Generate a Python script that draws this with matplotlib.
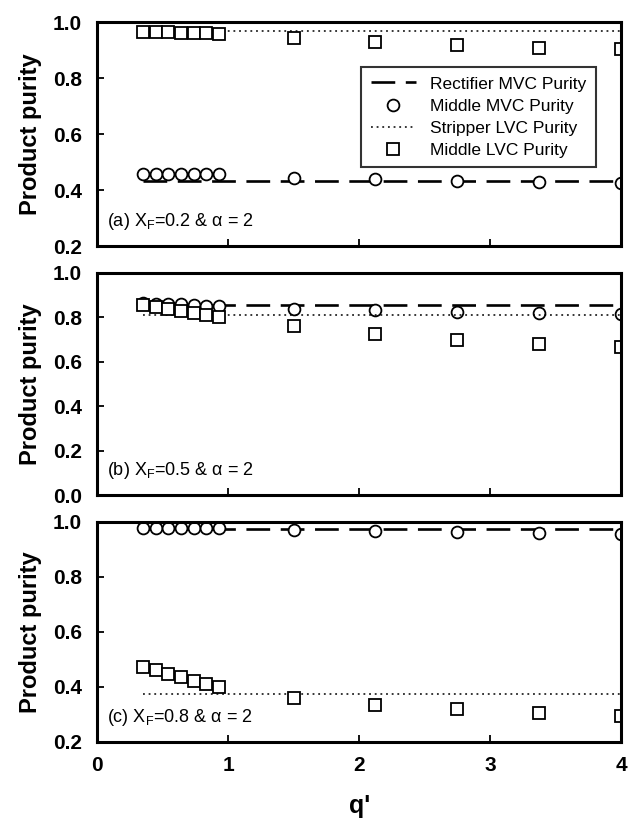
import numpy as np
import matplotlib
matplotlib.use("Agg")
import matplotlib.pyplot as plt

plt.rcParams['font.family'] = ['Liberation Sans', 'DejaVu Sans']
plt.rcParams['mathtext.fontset'] = 'custom'
plt.rcParams['mathtext.rm'] = 'Liberation Sans'
plt.rcParams['mathtext.it'] = 'Liberation Sans'

# q' values of the simulated points
q = [0.35, 0.45, 0.54, 0.64, 0.74, 0.83, 0.93, 1.5, 2.12, 2.75, 3.37, 4.0]
# flat column purities span the whole q' range
q_line = [0.35, 4.0]

# (a) XF = 0.2
a_rect = [0.435, 0.435]
a_strip = [0.97, 0.97]
a_mid_mvc = [0.46, 0.46, 0.46, 0.46, 0.46, 0.46, 0.46, 0.445, 0.44, 0.435, 0.43, 0.425]
a_mid_lvc = [0.965, 0.965, 0.965, 0.963, 0.963, 0.962, 0.96, 0.945, 0.93, 0.92, 0.91, 0.905]

# (b) XF = 0.5
b_rect = [0.855, 0.855]
b_strip = [0.81, 0.81]
b_mid_mvc = [0.865, 0.862, 0.86, 0.858, 0.855, 0.853, 0.85, 0.84, 0.833, 0.826, 0.82, 0.815]
b_mid_lvc = [0.855, 0.848, 0.84, 0.83, 0.82, 0.81, 0.80, 0.76, 0.725, 0.70, 0.68, 0.665]

# (c) XF = 0.8
c_rect = [0.975, 0.975]
c_strip = [0.375, 0.375]
c_mid_mvc = [0.978, 0.978, 0.978, 0.977, 0.977, 0.977, 0.976, 0.97, 0.965, 0.962, 0.96, 0.957]
c_mid_lvc = [0.473, 0.46, 0.447, 0.436, 0.422, 0.41, 0.40, 0.36, 0.335, 0.318, 0.305, 0.295]

panels = [
    ("(a) X$_\\mathrm{F}$=0.2 & \u03b1 = 2", a_rect, a_strip, a_mid_mvc, a_mid_lvc,
     (0.2, 1.0), [0.2, 0.4, 0.6, 0.8, 1.0]),
    ("(b) X$_\\mathrm{F}$=0.5 & \u03b1 = 2", b_rect, b_strip, b_mid_mvc, b_mid_lvc,
     (0.0, 1.0), [0.0, 0.2, 0.4, 0.6, 0.8, 1.0]),
    ("(c) X$_\\mathrm{F}$=0.8 & \u03b1 = 2", c_rect, c_strip, c_mid_mvc, c_mid_lvc,
     (0.2, 1.0), [0.2, 0.4, 0.6, 0.8, 1.0]),
]

fig = plt.figure(figsize=(6.28, 8.27), dpi=100)
left, width = 0.155, 0.834
boxes = [(0.702, 0.271), (0.401, 0.269), (0.103, 0.266)]

for i, (label, rect, strip, mmvc, mlvc, ylim, yticks) in enumerate(panels):
    ax = fig.add_axes([left, boxes[i][0], width, boxes[i][1]])
    ax.plot(q_line, rect, color='black', lw=1.9, dashes=(9, 4),
            label='Rectifier MVC Purity')
    ax.plot(q, mmvc, linestyle='none', marker='o', ms=8.5, mfc='white',
            mec='black', mew=1.3, label='Middle MVC Purity')
    ax.plot(q_line, strip, color='black', lw=1.1, dashes=(1.2, 2.5),
            label='Stripper LVC Purity')
    ax.plot(q, mlvc, linestyle='none', marker='s', ms=8.5, mfc='white',
            mec='black', mew=1.3, label='Middle LVC Purity')

    ax.set_xlim(0, 4)
    ax.set_ylim(*ylim)
    ax.set_yticks(yticks)
    ax.set_yticklabels(['%.1f' % v for v in yticks], fontweight='bold')
    ax.set_xticks([1, 2, 3])
    ax.tick_params(direction='in', length=5, width=1.3, labelsize=15,
                   top=False, right=False)
    ax.tick_params(axis='y', pad=11)
    for s in ax.spines.values():
        s.set_linewidth(2.2)
    ax.set_ylabel('Product purity', fontsize=17, fontweight='bold', labelpad=8)
    ax.text(0.018, 0.11, label, transform=ax.transAxes, fontsize=13,
            ha='left', va='center')
    if i < 2:
        ax.set_xticklabels([])
    else:
        ax.set_xticks([0, 1, 2, 3, 4])
        ax.set_xticklabels(['0', '1', '2', '3', '4'], fontweight='bold')
        ax.set_xlabel("q'", fontsize=18, fontweight='bold', labelpad=14)
        ax.tick_params(axis='x', pad=10)
    if i == 0:
        leg = ax.legend(loc='upper right', bbox_to_anchor=(0.968, 0.84),
                        fontsize=12.5, frameon=True, fancybox=False,
                        edgecolor='black', handlelength=2.6,
                        borderpad=0.55, labelspacing=0.4)
        leg.get_frame().set_linewidth(1.5)

fig.savefig('out.png', dpi=100)
